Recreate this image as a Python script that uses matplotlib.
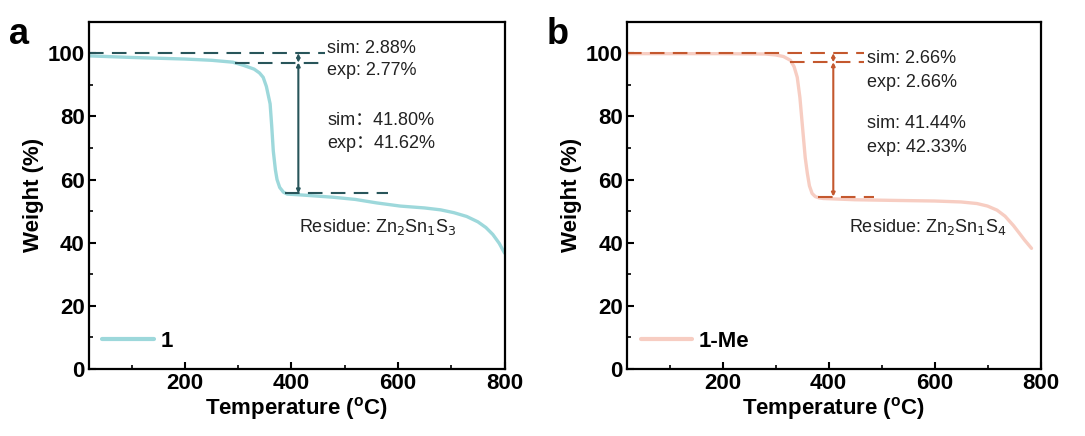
import matplotlib
matplotlib.use("Agg")
import matplotlib.pyplot as plt
import numpy as np

plt.rcParams['font.family'] = ['Liberation Sans', 'DejaVu Sans']

# Panel a data (compound 1)
temp_a = [20, 100, 200, 250, 290, 310, 330, 340, 347, 353, 360, 363, 366, 370, 373, 378, 385, 392, 420, 478, 520, 560, 604, 650, 680, 705, 729, 750, 765, 778, 790, 800]
weight_a = [99.2, 98.7, 98.2, 97.8, 97.2, 96.2, 95.0, 93.8, 92.4, 89.5, 84.0, 77.0, 69.0, 63.0, 60.0, 57.5, 56.0, 55.4, 55.1, 54.4, 53.7, 52.6, 51.6, 51.0, 50.4, 49.5, 48.3, 46.6, 44.8, 42.6, 39.8, 36.7]

# Panel b data (compound 1-Me)
temp_b = [20, 100, 200, 280, 300, 315, 328, 335, 341, 346, 352, 356, 360, 364, 369, 375, 382, 390, 450, 520, 600, 650, 680, 700, 718, 733, 749, 760, 770, 783]
weight_b = [99.9, 99.9, 99.9, 99.8, 99.5, 99.0, 97.8, 95.8, 92.4, 86.0, 74.6, 67.0, 62.0, 58.0, 55.6, 54.6, 54.2, 54.0, 53.6, 53.4, 53.2, 52.9, 52.4, 51.6, 50.3, 48.4, 45.4, 43.0, 40.8, 38.2]

labels = ['1', '1-Me']
panel_letters = ['a', 'b']
xticks = [200, 400, 600, 800]
yticks = [0, 20, 40, 60, 80, 100]

# annotation values
ann_a = dict(top=100, mid=97.1, low=55.6, xarrow=413,
             top_x=(20, 463), mid_x=(295, 463), low_x=(388, 581),
             t1=('sim: 2.88%', 'exp: 2.77%'), t2=('sim\uff1a41.80%', 'exp\uff1a41.62%'),
             t1_xy=(467, 101.6, 94.6), t2_xy=(467, 78.8, 71.5),
             residue='Residue: Zn$_2$Sn$_1$S$_3$', res_xy=(414, 45.0))
ann_b = dict(top=100, mid=97.2, low=54.6, xarrow=409,
             top_x=(20, 466), mid_x=(328, 466), low_x=(381, 485),
             t1=('sim: 2.66%', 'exp: 2.66%'), t2=('sim: 41.44%', 'exp: 42.33%'),
             t1_xy=(473, 98.3, 90.9), t2_xy=(473, 77.8, 70.3),
             residue='Residue: Zn$_2$Sn$_1$S$_4$', res_xy=(439, 45.0))

curve_colors = ['#9dd8db', '#f7cdc2']
ann_colors = ['#28555a', '#c4582e']

fig = plt.figure(figsize=(10.85, 4.36), dpi=100)
axes = [fig.add_axes([0.082, 0.154, 0.383, 0.796]),
        fig.add_axes([0.578, 0.154, 0.381, 0.796])]

datasets = [(temp_a, weight_a), (temp_b, weight_b)]
anns = [ann_a, ann_b]
afs = 13
fs = 16

for i, ax in enumerate(axes):
    t, w = datasets[i]
    ax.plot(t, w, color=curve_colors[i], lw=2.4, label=labels[i], solid_capstyle='round',
            solid_joinstyle='round')
    a = anns[i]
    c = ann_colors[i]
    dash = (7, 4)
    ax.plot(a['top_x'], [a['top']] * 2, color=c, lw=1.5, dashes=dash)
    ax.plot(a['mid_x'], [a['mid']] * 2, color=c, lw=1.5, dashes=dash)
    ax.plot(a['low_x'], [a['low']] * 2, color=c, lw=1.5, dashes=dash)
    ax.annotate('', xy=(a['xarrow'], a['top']), xytext=(a['xarrow'], a['mid']),
                arrowprops=dict(arrowstyle='<|-|>', color=c, lw=1.2,
                                mutation_scale=5, shrinkA=0, shrinkB=0))
    ax.annotate('', xy=(a['xarrow'], a['mid']), xytext=(a['xarrow'], a['low']),
                arrowprops=dict(arrowstyle='<|-|>', color=c, lw=1.5,
                                mutation_scale=5, shrinkA=0, shrinkB=0))
    tx, ty1, ty2 = a['t1_xy']
    ax.text(tx, ty1, a['t1'][0], fontsize=afs, va='center', ha='left', color='#222222')
    ax.text(tx, ty2, a['t1'][1], fontsize=afs, va='center', ha='left', color='#222222')
    tx, ty1, ty2 = a['t2_xy']
    ax.text(tx, ty1, a['t2'][0], fontsize=afs, va='center', ha='left', color='#222222',
            family=['Liberation Sans', 'Noto Sans CJK SC', 'DejaVu Sans'])
    ax.text(tx, ty2, a['t2'][1], fontsize=afs, va='center', ha='left', color='#222222',
            family=['Liberation Sans', 'Noto Sans CJK SC', 'DejaVu Sans'])
    rx, ry = a['res_xy']
    ax.text(rx, ry, a['residue'], fontsize=afs, va='center', ha='left', color='#222222')

    ax.set_xlim(20, 800)
    ax.set_ylim(0, 110)
    ax.set_xticks(xticks)
    ax.set_yticks(yticks)
    ax.set_xticks([100, 300, 500, 700], minor=True)
    ax.set_yticks([10, 30, 50, 70, 90], minor=True)
    ax.tick_params(which='major', direction='in', length=5, width=1.5, labelsize=fs, pad=3)
    ax.tick_params(which='minor', direction='in', length=3, width=1.2)
    for lab in ax.get_xticklabels() + ax.get_yticklabels():
        lab.set_fontweight('bold')
    for sp in ax.spines.values():
        sp.set_linewidth(1.6)
    ax.set_xlabel('Temperature ($\\mathregular{^o}$C)', fontsize=fs, fontweight='bold', labelpad=1)
    ax.set_ylabel('Weight (%)', fontsize=fs, fontweight='bold', labelpad=3)
    leg = ax.legend(loc='lower left', frameon=False, fontsize=fs, handlelength=2.3,
                    handletextpad=0.3, borderaxespad=0.3, bbox_to_anchor=(-0.005, 0.005))
    for txt in leg.get_texts():
        txt.set_fontweight('bold')
    for line in leg.get_lines():
        line.set_linewidth(3)

fig.text(0.008, 0.9, panel_letters[0], fontsize=26, fontweight='bold')
fig.text(0.504, 0.9, panel_letters[1], fontsize=26, fontweight='bold')

fig.savefig('out.png', dpi=100)
